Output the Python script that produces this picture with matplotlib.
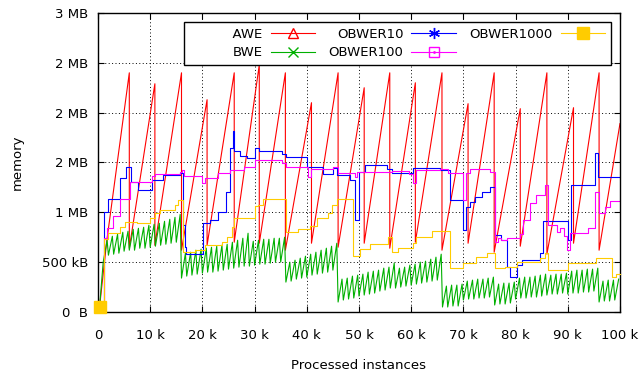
import matplotlib
matplotlib.use('Agg')
import matplotlib.pyplot as plt
import numpy as np
from matplotlib.legend_handler import HandlerTuple
from matplotlib.lines import Line2D

plt.rcParams['font.family'] = 'DejaVu Sans'
plt.rcParams['font.size'] = 9.5

# x em milhares de instâncias, y em MB
inicio_k = 0.3
inicio_v = 0.05

# AWE - dente de serra (picos, vales)
awe_pico_k = [6.0, 10.9, 16.0, 20.9, 26.1, 30.9, 35.9, 40.9, 46.0, 51.0,
              55.9, 60.8, 65.9, 70.9, 75.9, 80.9, 86.0, 91.1, 96.0]
awe_pico = [2.40, 2.29, 2.40, 2.13, 2.40, 2.48, 2.40, 2.10, 2.40, 2.25,
            2.40, 2.30, 2.40, 2.09, 2.40, 2.04, 2.40, 2.05, 2.40]
awe_vale = [0.64, 0.67, 0.62, 0.67, 0.70, 0.69, 0.62, 0.69, 0.65, 0.69,
            0.64, 0.70, 0.62, 0.69, 0.60, 0.66, 0.58, 0.69, 0.62]
awe_sub_k, awe_sub = 1.7, 0.72
awe_fim_k, awe_fim = 100.0, 1.89

# BWE - dentes de ~1k instâncias
bwe_k = np.arange(1, 100)
bwe_min = [0.50, 0.57, 0.58, 0.59, 0.61, 0.62, 0.62, 0.64, 0.64, 0.65, 0.66, 0.67, 0.68, 0.69, 0.70,
           0.34, 0.36, 0.37, 0.38, 0.39, 0.40, 0.40, 0.41, 0.42, 0.43, 0.44, 0.45, 0.46, 0.46, 0.47,
           0.48, 0.48, 0.49, 0.50, 0.50,
           0.30, 0.31, 0.33, 0.34, 0.35, 0.37, 0.38, 0.39, 0.40, 0.42,
           0.10, 0.12, 0.13, 0.14, 0.16, 0.17, 0.18, 0.19, 0.21, 0.22, 0.24, 0.24, 0.25, 0.26, 0.27,
           0.28, 0.29, 0.30, 0.31, 0.32,
           0.05, 0.05, 0.06, 0.06, 0.12, 0.13, 0.13, 0.14, 0.14, 0.15, 0.07, 0.08, 0.08, 0.09,
           0.13, 0.14, 0.14, 0.15, 0.15, 0.16, 0.17, 0.18, 0.18, 0.19, 0.18, 0.19, 0.19, 0.20,
           0.20, 0.21, 0.10, 0.11, 0.11, 0.12]
bwe_max = [0.72, 0.76, 0.78, 0.80, 0.81, 0.83, 0.84, 0.85, 0.87, 0.88, 0.89, 0.91, 0.93, 0.95, 0.98,
           0.59, 0.60, 0.62, 0.63, 0.64, 0.65, 0.66, 0.67, 0.68, 0.70, 0.72, 0.74, 0.79, 0.71, 0.72,
           0.73, 0.73, 0.74, 0.74, 0.75,
           0.50, 0.52, 0.54, 0.56, 0.58, 0.60, 0.62, 0.64, 0.66, 0.69,
           0.33, 0.34, 0.36, 0.37, 0.38, 0.40, 0.41, 0.42, 0.44, 0.45, 0.49, 0.44, 0.45, 0.47, 0.48,
           0.50, 0.51, 0.53, 0.55, 0.58,
           0.26, 0.27, 0.27, 0.28, 0.31, 0.32, 0.33, 0.33, 0.34, 0.35, 0.28, 0.29, 0.29, 0.30,
           0.34, 0.35, 0.35, 0.36, 0.37, 0.38, 0.37, 0.38, 0.38, 0.39, 0.41, 0.42, 0.42, 0.43,
           0.43, 0.44, 0.31, 0.32, 0.32, 0.33]

# OBWER10 (degraus)
ob10_k = [0.3, 1.1, 2.0, 4.3, 5.3, 6.3, 7.6, 10.4, 12.5, 15.7, 16.2, 16.6, 16.9, 20.2, 21.5,
          23.0, 24.5, 25.3, 25.8, 26.1, 27.2, 28.5, 30.1, 30.8, 35.2, 36.1, 40.0, 43.2, 45.1,
          45.7, 48.3, 49.2, 50.1, 51.2, 55.3, 56.3, 60.4, 65.5, 67.4, 70.0, 70.5, 71.3, 72.2,
          73.5, 75.1, 76.1, 77.3, 78.3, 78.9, 80.2, 81.2, 84.7, 85.3, 90.1, 90.6, 95.2, 95.8, 100.0]
ob10_v = [0.05, 1.00, 1.13, 1.34, 1.45, 1.30, 1.22, 1.32, 1.37, 1.39, 0.87, 0.65, 0.58, 0.89, 0.92,
          1.00, 1.20, 1.65, 1.82, 1.62, 1.57, 1.55, 1.65, 1.62, 1.59, 1.56, 1.45, 1.38, 1.44,
          1.37, 1.32, 0.92, 1.40, 1.47, 1.43, 1.39, 1.44, 1.42, 1.12, 0.82, 1.05, 1.10, 1.15,
          1.20, 1.25, 0.77, 0.72, 0.45, 0.35, 0.47, 0.52, 0.59, 0.91, 0.72, 1.27, 1.60, 1.35, 1.35]

# OBWER100 (degraus)
ob100_k = [0.3, 1.1, 1.7, 2.9, 4.2, 6.1, 10.3, 11.0, 15.7, 16.0, 16.4, 19.9, 20.5, 23.0, 25.3,
           28.0, 30.1, 35.3, 36.1, 40.2, 40.8, 45.1, 46.0, 49.3, 49.7, 56.3, 59.5, 60.3, 61.0,
           65.5, 67.0, 70.0, 70.5, 71.3, 75.1, 76.1, 76.6, 77.3, 78.3, 80.8, 81.5, 82.8, 84.0,
           85.6, 86.3, 87.9, 88.5, 89.2, 89.8, 90.4, 93.9, 95.2, 96.0, 97.2, 98.1, 100.0]
ob100_v = [0.05, 0.74, 0.84, 0.96, 1.13, 1.30, 1.36, 1.38, 1.40, 1.42, 1.36, 1.29, 1.34, 1.39, 1.42,
           1.45, 1.53, 1.49, 1.45, 1.35, 1.43, 1.45, 1.39, 1.35, 1.40, 1.41, 1.38, 1.29, 1.42,
           1.43, 1.39, 1.12, 1.39, 1.43, 1.40, 0.70, 0.74, 0.72, 0.74, 0.78, 0.92, 1.09, 1.17,
           1.27, 0.87, 0.80, 0.84, 0.76, 0.62, 0.79, 0.84, 1.20, 0.99, 1.05, 1.11, 1.11]

# OBWER1000 (degraus)
ob1000_k = [0.3, 1.1, 2.0, 4.2, 5.2, 7.4, 10.0, 10.9, 11.9, 14.8, 15.4, 16.3, 18.6, 20.5, 23.7,
            24.7, 25.6, 26.0, 30.1, 30.7, 31.7, 36.0, 38.4, 40.6, 41.9, 44.1, 44.8, 45.7, 48.9,
            50.2, 52.1, 55.6, 56.3, 57.5, 60.4, 61.0, 63.9, 67.4, 70.0, 72.5, 74.5, 76.1, 78.0,
            80.2, 84.7, 85.6, 86.3, 90.1, 95.5, 98.4, 99.2, 100.0]
ob1000_v = [0.05, 0.73, 0.79, 0.85, 0.90, 0.89, 0.94, 0.99, 1.02, 1.07, 1.12, 0.60, 0.62, 0.67, 0.70,
            0.75, 0.85, 0.94, 1.06, 1.07, 1.13, 0.80, 0.83, 0.86, 0.94, 0.99, 1.07, 1.13, 0.56,
            0.63, 0.68, 0.75, 0.60, 0.64, 0.69, 0.75, 0.81, 0.44, 0.49, 0.55, 0.59, 0.44, 0.45,
            0.50, 0.54, 0.59, 0.42, 0.49, 0.54, 0.35, 0.38, 0.38]

x_ticks = [0, 10, 20, 30, 40, 50, 60, 70, 80, 90, 100]
x_rotulos = ['0', '10 k', '20 k', '30 k', '40 k', '50 k', '60 k', '70 k', '80 k', '90 k', '100 k']
y_ticks = [0, 0.5, 1.0, 1.5, 2.0, 2.5, 3.0]
y_rotulos = ['0  B', '500 kB', '1 MB', '2 MB', '2 MB', '2 MB', '3 MB']
legenda = ['AWE', 'BWE', 'OBWER10', 'OBWER100', 'OBWER1000']

# monta as curvas
awe_x = [inicio_k, awe_sub_k]
awe_y = [inicio_v, awe_sub]
for k, p, v in zip(awe_pico_k, awe_pico, awe_vale):
    awe_x += [k, k]
    awe_y += [p, v]
awe_x.append(awe_fim_k)
awe_y.append(awe_fim)

bwe_x = [inicio_k]
bwe_y = [inicio_v]
for k, lo, hi in zip(bwe_k, bwe_min, bwe_max):
    bwe_x += [k, k + 0.75]
    bwe_y += [lo, hi]

fig = plt.figure(figsize=(6.4, 3.79), dpi=100)
ax = fig.add_axes([0.1531, 0.1768, 0.8156, 0.7889])

cor_awe = '#ff0000'
cor_bwe = '#00b000'
cor_10 = '#0000ff'
cor_100 = '#ff00ff'
cor_1000 = '#ffcc00'
lw = 0.8

l_awe, = ax.plot(awe_x, awe_y, color=cor_awe, lw=lw, marker='^', mfc='none', ms=7,
                 markevery=[0])
l_bwe, = ax.plot(bwe_x, bwe_y, color=cor_bwe, lw=lw, marker='x', ms=7, markevery=[0])
l_10, = ax.step(ob10_k, ob10_v, where='post', color=cor_10, lw=lw, marker=(6, 2, 0), ms=8,
                markevery=[0])
l_100, = ax.step(ob100_k, ob100_v, where='post', color=cor_100, lw=lw, marker='s', mfc='none',
                 ms=7, markevery=[0])
l_1000, = ax.step(ob1000_k, ob1000_v, where='post', color=cor_1000, lw=lw, marker='s', ms=8.5,
                  markevery=[0], clip_on=False, zorder=5)
ponto = Line2D([], [], color=cor_100, marker='.', ms=2, linestyle='none')

ax.set_xlim(0, 100)
ax.set_ylim(0, 3)
ax.set_xticks(x_ticks)
ax.set_xticklabels(x_rotulos)
ax.set_yticks(y_ticks)
ax.set_yticklabels(y_rotulos)
ax.tick_params(direction='in', top=True, right=True, length=4, width=0.8, colors='black')
ax.tick_params(axis='x', pad=12)
ax.tick_params(axis='y', pad=7)
ax.grid(True, color='black', linestyle=(0, (1, 2.5)), linewidth=0.7)
for s in ax.spines.values():
    s.set_linewidth(1.0)

ax.set_ylabel('memory')
ax.yaxis.set_label_coords(-0.142, 0.5)
ax.set_xlabel('Processed instances')
ax.xaxis.set_label_coords(0.5, -0.158)

# o gnuplot deixa espaço à esquerda da 1a coluna
rotulos_leg = [' ' * 10 + legenda[0]] + legenda[1:]
leg = ax.legend([l_awe, l_bwe, l_10, (l_100, ponto), l_1000], rotulos_leg,
                ncol=3, loc='upper right', bbox_to_anchor=(1, 1), borderaxespad=0.65,
                markerfirst=False, handlelength=3.4, columnspacing=1.0, labelspacing=0.45,
                borderpad=0.45, handletextpad=0.6, fancybox=False, edgecolor='black',
                framealpha=1, handler_map={tuple: HandlerTuple(ndivide=1, pad=0)})
leg.get_frame().set_linewidth(1.0)

fig.savefig('out.png', dpi=100)
